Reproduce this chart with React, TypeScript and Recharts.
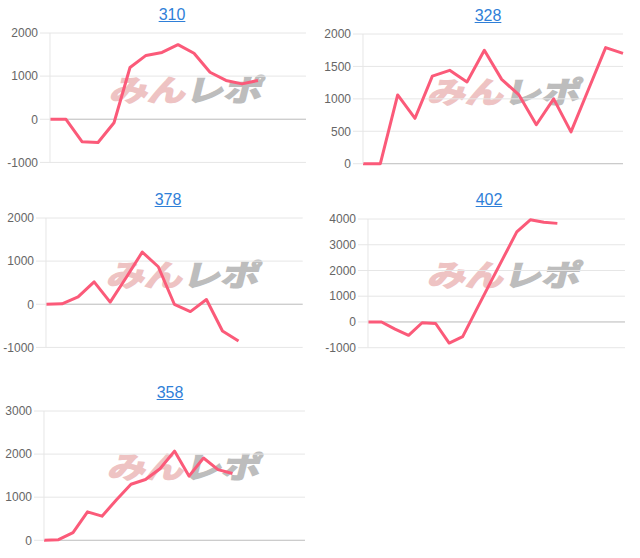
import React from 'react';
import { LineChart, Line, XAxis, YAxis, CartesianGrid, ReferenceLine } from 'recharts';

// day slots shown on the (hidden) x axis
const dayLabels = ['1', '2', '3', '4', '5', '6', '7', '8', '9', '10', '11', '12', '13', '14', '15', '16', '17', '18', '19', '20'];

// balance per machine
const values310 = [0, 0, -520, -540, -80, 1200, 1480, 1550, 1730, 1530, 1090, 900, 820, 900];
const values328 = [0, 0, 1060, 700, 1350, 1440, 1260, 1750, 1300, 1060, 600, 1000, 490, 1140, 1790, 1700];
const values378 = [0, 10, 170, 520, 50, 620, 1210, 870, 0, -170, 110, -620, -850];
const values402 = [0, 0, -280, -520, -30, -60, -820, -570, 460, 1480, 2490, 3500, 3970, 3870, 3830];
const values358 = [0, 15, 180, 660, 560, 940, 1300, 1410, 1660, 2070, 1490, 1910, 1640, 1550];

const ticks310 = [-1000, 0, 1000, 2000];
const ticks328 = [0, 500, 1000, 1500, 2000];
const ticks378 = [-1000, 0, 1000, 2000];
const ticks402 = [-1000, 0, 1000, 2000, 3000, 4000];
const ticks358 = [0, 1000, 2000, 3000];

const FONT = '"Liberation Sans", Arial, sans-serif';
const LINE_COLOR = '#fb5a79';
const AXIS_W = 44;

interface PanelProps {
  title: string;
  values: number[];
  slots: number;
  ticks: number[];
  plotLeft: number;
  plotRight: number;
  plotTop: number;
  plotBottom: number;
  titleX: number;
  titleY: number;
  markX: number;
  markY: number;
}

// "みんレポ" logo behind each chart
const Watermark = ({ x, y }: { x: number; y: number }) => (
  <div
    style={{
      position: 'absolute',
      left: x - 90,
      top: y - 22,
      width: 180,
      height: 44,
      lineHeight: '44px',
      textAlign: 'center',
      fontFamily: '"Noto Sans CJK JP", sans-serif',
      fontWeight: 700,
      fontSize: 38,
      letterSpacing: 0,
      transform: 'skewX(-14deg) scaleY(0.78)',
      whiteSpace: 'nowrap',
    }}
  >
    <span style={{ color: '#eec3c3', WebkitTextStroke: '2px #eec3c3' }}>みん</span>
    <span style={{ color: '#bdbdbd', WebkitTextStroke: '2px #bdbdbd' }}>レポ</span>
  </div>
);

const Panel = (p: PanelProps) => {
  const data = dayLabels.slice(0, p.slots).map((d, i) => ({
    day: d,
    value: i < p.values.length ? p.values[i] : null,
  }));
  const padV = 8;
  const width = p.plotRight - p.plotLeft + AXIS_W + 4;
  const height = p.plotBottom - p.plotTop + padV * 2;
  return (
    <>
      <a
        href="#"
        style={{
          position: 'absolute',
          left: p.titleX,
          top: p.titleY - 10,
          transform: 'translateX(-50%)',
          fontFamily: FONT,
          fontSize: 16,
          lineHeight: '20px',
          color: '#2f7fd8',
          textDecoration: 'underline',
        }}
      >
        {p.title}
      </a>
      <Watermark x={p.markX} y={p.markY} />
      <div style={{ position: 'absolute', left: p.plotLeft - AXIS_W, top: p.plotTop - padV }}>
        <LineChart
          width={width}
          height={height}
          data={data}
          margin={{ top: padV, right: 4, bottom: padV, left: 0 }}
        >
          <CartesianGrid vertical={false} stroke="#e6e6e6" />
          <XAxis dataKey="day" hide />
          <YAxis
            width={AXIS_W}
            domain={[p.ticks[0], p.ticks[p.ticks.length - 1]]}
            ticks={p.ticks}
            interval={0}
            tickSize={10}
            tickMargin={2}
            axisLine={{ stroke: '#e6e6e6' }}
            tickLine={{ stroke: '#e6e6e6' }}
            tick={{ fill: '#666', fontSize: 12, fontFamily: FONT }}
          />
          <ReferenceLine y={0} stroke="#c4c4c4" />
          <Line
            type="linear"
            dataKey="value"
            stroke={LINE_COLOR}
            strokeWidth={3}
            dot={false}
            activeDot={false}
            strokeLinejoin="round"
            isAnimationActive={false}
          />
        </LineChart>
      </div>
    </>
  );
};

export default function App() {
  return (
    <div style={{ position: 'absolute', left: 0, top: 0, width: 640, height: 558, background: '#fff' }}>
      <Panel title="310" values={values310} slots={17} ticks={ticks310}
        plotLeft={50} plotRight={306} plotTop={33.3} plotBottom={162.7}
        titleX={172} titleY={15} markX={188} markY={89} />
      <Panel title="328" values={values328} slots={16} ticks={ticks328}
        plotLeft={363} plotRight={623} plotTop={34.3} plotBottom={164}
        titleX={488} titleY={16} markX={506} markY={91} />
      <Panel title="378" values={values378} slots={17} ticks={ticks378}
        plotLeft={46} plotRight={302.7} plotTop={218.3} plotBottom={347.7}
        titleX={168} titleY={200} markX={185} markY={274} />
      <Panel title="402" values={values402} slots={20} ticks={ticks402}
        plotLeft={368} plotRight={625} plotTop={219} plotBottom={347.7}
        titleX={489} titleY={200} markX={506} markY={274} />
      <Panel title="358" values={values358} slots={19} ticks={ticks358}
        plotLeft={44} plotRight={305} plotTop={410.7} plotBottom={540}
        titleX={170} titleY={393} markX={186} markY={466} />
    </div>
  );
}
